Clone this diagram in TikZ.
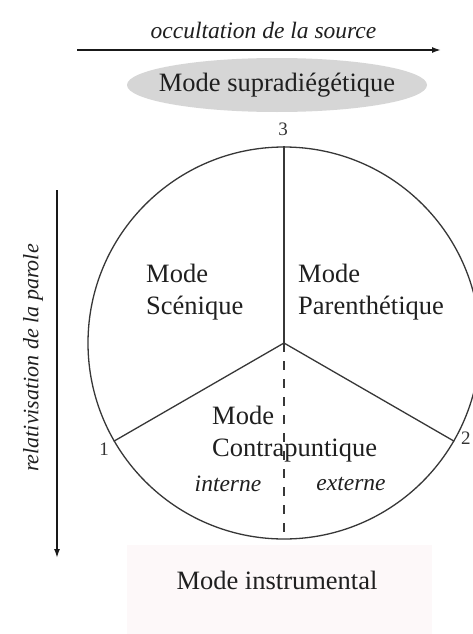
\documentclass[tikz,border=0pt]{standalone}
\usepackage{fontspec}
\setmainfont{Liberation Serif}
\usetikzlibrary{arrows.meta,shapes.geometric}
\definecolor{linegray}{RGB}{55,55,55}
\definecolor{ellgray}{RGB}{214,214,214}
\definecolor{pinkbg}{RGB}{253,248,249}
\tikzset{
  bigtxt/.style={font=\fontsize{26.5}{32}\selectfont, inner sep=0pt, text=black!88},
  ittxt/.style={font=\fontsize{23.5}{28}\selectfont\itshape, inner sep=0pt, text=black!88},
  numtxt/.style={font=\fontsize{19}{22}\selectfont, inner sep=0pt, text=black!80},
  axisarrow/.style={draw=black!90, line width=1.6pt, -{Latex[length=9pt,width=6pt]}},
  circline/.style={draw=linegray, line width=1.3pt},
}
\begin{document}
\begin{tikzpicture}[x=1pt,y=-1pt]
\useasboundingbox (0,0) rectangle (472,634);
\fill[white] (0,0) rectangle (472,634);
% pink background of the bottom label
\fill[pinkbg] (127,545) rectangle (432,634);
% top arrow
\node[ittxt] (occ) at (263.5,30) {occultation de la source};
\coordinate (hA) at (77,50);
\coordinate (hB) at (441,50);
\draw[axisarrow] (hA) -- (hB);
% supradiegetique
\node[ellipse, fill=ellgray, minimum width=300pt, minimum height=54pt, inner sep=0pt] (supra) at (277,85) {};
\node[bigtxt] (supratxt) at (277,85) {Mode supradiégétique};
% left arrow
\coordinate (vA) at (57,190);
\coordinate (vB) at (57,558);
\draw[axisarrow] (vA) -- (vB);
\node[ittxt, font=\fontsize{22}{26}\selectfont\itshape, rotate=90] (rel) at (33,358) {relativisation de la parole};
% circle
\node[circle, circline, minimum size=392pt, inner sep=0pt] (C) at (284,343) {};
\draw[circline] (C.center) -- (C.90);
\draw[circline] (C.center) -- (C.210);
\draw[circline] (C.center) -- (C.330);
\draw[circline, dash pattern=on 9pt off 9pt] (C.center) -- (C.south);
% numbers
\node[numtxt] (n3) at (283,129) {3};
\node[numtxt] (n1) at (104,449) {1};
\node[numtxt, anchor=west] (n2) at (461,438) {2};
% sectors
\node[bigtxt, align=left, anchor=west] (scen) at (146,292) {Mode\\Scénique};
\node[bigtxt, align=left, anchor=west] (paren) at (298,292) {Mode\\Parenthétique};
\node[bigtxt, align=left, anchor=west] (contra) at (212,434) {Mode\\Contrapuntique};
\node[ittxt] (int) at (228,484) {interne};
\node[ittxt] (ext) at (351,484) {externe};
% bottom
\node[bigtxt] (instr) at (277,580) {Mode instrumental};
\end{tikzpicture}
\end{document}
